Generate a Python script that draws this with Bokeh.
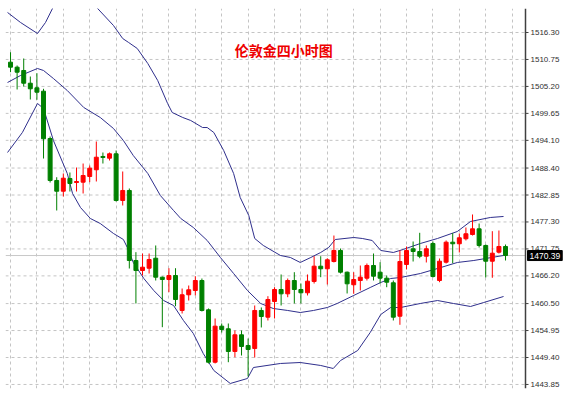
from bokeh.plotting import figure
from bokeh.models import (ColumnDataSource, FixedTicker, Span, Label, Range1d)
from bokeh.core.properties import value
from bokeh.embed import file_html
from bokeh.resources import INLINE

# ---- Data ----
opens = [1510.19, 1509.16, 1508.48, 1505.86, 1504.92, 1504.22, 1494.48, 1485.84, 1483.63, 1486.25,
         1485.42, 1485.49, 1486.66, 1488.04, 1490.78, 1490.43, 1491.33, 1481.72, 1483.78, 1469.37,
         1467.31, 1467.78, 1469.84, 1465.93, 1465.46, 1466.28, 1459.08, 1462.31, 1463.19, 1465.25,
         1459.22, 1448.43, 1455.85, 1455.31, 1450.64, 1454.07, 1451.87, 1451.26, 1459.08, 1457.70,
         1460.93, 1463.40, 1462.51, 1465.25, 1463.40, 1462.72, 1465.05, 1468.20, 1467.66, 1469.16,
         1471.43, 1466.96, 1464.37, 1465.25, 1465.73, 1468.34, 1466.96, 1465.73, 1464.78, 1457.90,
         1468.55, 1471.78, 1471.22, 1470.25, 1472.87, 1465.25, 1469.02, 1473.14, 1472.81, 1473.84,
         1474.72, 1475.89, 1472.46, 1469.22, 1471.08, 1472.25]
highs = [1512.24, 1509.51, 1510.95, 1507.24, 1507.92, 1504.71, 1494.89, 1486.51, 1487.28, 1487.48,
         1488.51, 1489.33, 1488.92, 1493.86, 1491.60, 1491.60, 1492.01, 1487.69, 1484.19, 1471.08,
         1470.81, 1470.81, 1472.46, 1466.07, 1467.78, 1467.78, 1463.60, 1464.22, 1466.14, 1465.66,
         1459.49, 1457.43, 1456.40, 1456.40, 1454.96, 1454.96, 1453.31, 1460.11, 1459.70, 1462.02,
         1463.87, 1466.49, 1465.66, 1466.96, 1464.63, 1466.49, 1470.25, 1470.25, 1469.84, 1474.51,
         1471.84, 1467.10, 1466.96, 1468.34, 1468.75, 1470.81, 1469.02, 1466.28, 1465.25, 1471.43,
         1472.25, 1473.28, 1475.07, 1472.46, 1473.28, 1469.78, 1473.49, 1474.99, 1474.93, 1476.16,
         1478.84, 1476.98, 1472.66, 1475.40, 1475.54, 1472.66]
lows = [1508.13, 1504.57, 1505.18, 1502.51, 1502.45, 1490.36, 1485.42, 1479.66, 1482.54, 1483.57,
        1483.57, 1483.16, 1485.49, 1485.63, 1489.33, 1489.95, 1481.51, 1480.69, 1467.72, 1460.52,
        1466.28, 1466.69, 1465.25, 1455.64, 1462.84, 1459.96, 1458.46, 1461.13, 1462.17, 1458.87,
        1448.17, 1448.17, 1454.54, 1448.43, 1449.46, 1449.81, 1445.49, 1449.40, 1455.58, 1457.02,
        1457.43, 1460.11, 1461.81, 1460.52, 1460.52, 1462.17, 1464.63, 1465.93, 1464.43, 1468.96,
        1466.69, 1462.58, 1462.51, 1463.19, 1465.25, 1465.25, 1464.63, 1463.87, 1457.02, 1456.13,
        1467.52, 1469.16, 1469.84, 1468.96, 1465.87, 1464.90, 1468.75, 1468.81, 1471.02, 1473.49,
        1474.51, 1472.04, 1465.87, 1465.81, 1470.81, 1469.37]
closes = [1509.16, 1508.13, 1505.86, 1504.71, 1504.01, 1494.42, 1485.84, 1483.63, 1486.31, 1485.22,
          1485.63, 1486.86, 1488.37, 1490.63, 1490.57, 1491.33, 1481.72, 1483.78, 1469.37, 1467.31,
          1467.99, 1469.57, 1465.93, 1465.46, 1466.28, 1461.34, 1462.31, 1463.34, 1465.25, 1459.08,
          1448.43, 1455.85, 1455.17, 1450.64, 1454.07, 1451.67, 1451.05, 1459.08, 1457.84, 1461.34,
          1463.40, 1462.51, 1465.25, 1463.40, 1462.72, 1465.11, 1468.20, 1467.66, 1469.51, 1471.43,
          1466.96, 1464.57, 1465.46, 1465.93, 1468.34, 1466.14, 1465.73, 1464.90, 1457.70, 1469.16,
          1471.43, 1471.22, 1470.25, 1471.78, 1466.07, 1469.22, 1473.14, 1472.81, 1474.04, 1474.87,
          1475.89, 1472.46, 1469.22, 1470.87, 1472.25, 1470.39]

# Bollinger bands, x = candle index
upper_x = [-0.45, 1.52, 4.09, 5.3, 6.36, 8.33, 10.6, 12.1, 13.2, 15.6, 17.0, 17.9, 19.2, 20.8, 22.3,
           23.8, 24.5, 26.1, 27.3, 29.1, 29.8, 30.8, 32.3, 33.8, 34.8, 36.1, 37.0, 38.3, 40.9, 42.4,
           43.9, 45.5, 47.0, 48.2, 49.2, 52.0, 53.3, 54.8, 56.1, 58.0, 59.5, 62.1, 64.7, 67.7, 69.7,
           72.7, 74.7]
upper_y = [1520.42, 1518.36, 1516.09, 1518.36, 1521.24, 1523.92, 1524.53, 1522.89, 1521.24, 1517.74,
           1515.06, 1514.24, 1513.01, 1509.92, 1506.42, 1501.69, 1499.83, 1498.80, 1498.19, 1496.74,
           1496.74, 1495.72, 1492.01, 1487.28, 1482.34, 1478.63, 1473.90, 1472.46, 1470.40, 1469.99,
           1468.96, 1469.99, 1471.02, 1472.04, 1473.69, 1474.10, 1473.90, 1473.49, 1471.43, 1471.02,
           1471.64, 1472.87, 1473.90, 1475.34, 1477.40, 1478.22, 1478.43]
middle_x = [-0.45, 1.52, 4.09, 5.0, 6.5, 8.6, 11.1, 13.6, 15.6, 17.1, 18.6, 20.8, 22.7, 24.7, 25.8,
            27.7, 29.8, 31.8, 33.8, 35.9, 37.9, 39.8, 42.0, 43.9, 45.9, 48.0, 49.5, 52.0, 54.5, 56.1,
            57.6, 59.1, 62.1, 64.7, 67.7, 70.2, 72.0, 74.7]
middle_y = [1506.01, 1507.45, 1508.89, 1508.48, 1506.83, 1504.36, 1500.86, 1498.80, 1496.54, 1494.07,
            1490.98, 1487.28, 1482.75, 1479.66, 1478.01, 1476.16, 1473.49, 1469.99, 1466.69, 1463.19,
            1460.52, 1459.49, 1459.08, 1458.66, 1459.08, 1459.69, 1460.52, 1462.17, 1463.81, 1464.84,
            1465.66, 1465.87, 1466.69, 1467.72, 1468.96, 1469.37, 1469.78, 1470.40]
lower_x = [-0.45, 1.8, 4.09, 5.0, 6.5, 8.6, 9.4, 10.6, 12.1, 13.6, 15.6, 17.1, 17.7, 18.6, 20.2,
           21.7, 23.2, 24.7, 26.2, 27.7, 29.2, 30.8, 33.3, 35.9, 36.8, 40.9, 43.9, 47.0, 48.9, 50.0,
           52.6, 54.5, 56.1, 57.6, 59.1, 62.1, 64.7, 67.1, 69.7, 71.7, 74.7]
lower_y = [1491.60, 1495.72, 1501.69, 1500.66, 1494.07, 1487.28, 1483.16, 1480.28, 1478.01, 1476.98,
           1474.93, 1473.69, 1472.04, 1468.96, 1465.66, 1463.19, 1461.13, 1460.11, 1457.02, 1454.34,
           1450.23, 1446.73, 1444.05, 1445.08, 1447.34, 1448.17, 1448.37, 1447.76, 1447.14, 1448.78,
           1450.84, 1454.55, 1458.25, 1459.69, 1459.69, 1460.52, 1461.13, 1460.52, 1459.90, 1460.72,
           1461.96]

price_ticks = [1516.30, 1510.75, 1505.20, 1499.65, 1494.10, 1488.40, 1482.85, 1477.30, 1471.75,
               1466.20, 1460.50, 1454.95, 1449.40, 1443.85]
current_price = 1470.39
title_text = "伦敦金四小时图"

# ---- Layout constants (pixels -> candle index units) ----
PX = 6.6                      # pixels per candle slot
X0 = -0.76                    # index at left edge of frame
AXIS_X = X0 + 520 / PX        # index where the price axis line sits (x = 525 px)
X1 = X0 + 570 / PX            # right edge of canvas

idx = list(range(len(opens)))
up_col, dn_col = "#ff0000", "#008000"
colors = [up_col if c >= o else dn_col for o, c in zip(opens, closes)]
src = ColumnDataSource(dict(
    x=idx, o=opens, h=highs, l=lows, c=closes,
    top=[max(o, c) for o, c in zip(opens, closes)],
    bot=[min(o, c) for o, c in zip(opens, closes)],
    color=colors,
))

p = figure(width=575, height=398, output_backend="svg", toolbar_location=None,
           x_range=Range1d(X0, X1), y_range=Range1d(1443.02, 1521.24),
           min_border_left=5, min_border_right=0, min_border_top=8, min_border_bottom=10)
p.outline_line_color = None
p.background_fill_color = "white"
p.border_fill_color = "white"
p.xaxis.visible = False
p.yaxis.visible = False
p.ygrid.visible = False
p.xgrid.ticker = FixedTicker(ticks=list(range(0, 77, 4)))
p.xgrid.grid_line_color = "#c4c4c4"
p.xgrid.grid_line_dash = "3 3"

# horizontal dashed grid up to the axis line
n = len(price_ticks)
p.segment(x0=[X0] * n, x1=[AXIS_X] * n, y0=price_ticks, y1=price_ticks,
          line_color="#c4c4c4", line_dash="3 3", line_width=1)

# current price line
p.segment(x0=[X0], x1=[AXIS_X], y0=[current_price], y1=[current_price],
          line_color="#c8c8c8", line_width=1)

# bands
band_col = "#2f2f8c"
p.line(upper_x, upper_y, line_color=band_col, line_width=1)
p.line(middle_x, middle_y, line_color=band_col, line_width=1)
p.line(lower_x, lower_y, line_color=band_col, line_width=1)

# candles
p.segment(x0="x", y0="l", x1="x", y1="h", line_color="color", line_width=1, source=src)
p.vbar(x="x", width=0.6, top="top", bottom="bot", fill_color="color", line_color="color",
       line_width=1, source=src)

# price axis on the right
p.add_layout(Span(location=AXIS_X, dimension="height", line_color="#404040", line_width=1.5))
p.segment(x0=[AXIS_X] * n, x1=[AXIS_X + 3 / PX] * n, y0=price_ticks, y1=price_ticks,
          line_color="#404040", line_width=1)
p.text(x=[AXIS_X + 5 / PX] * n, y=price_ticks, text=["%.2f" % t for t in price_ticks],
       text_font=value("Liberation Sans"), text_font_size="8px", text_color="#303030",
       text_align="left", text_baseline="middle")

# title inside chart
p.add_layout(Label(x=41.4, y=1512.6, text=title_text, text_align="center", text_baseline="middle",
                   text_color="#ee0000", text_font="Noto Sans CJK SC", text_font_style="bold",
                   text_font_size="14px"))

# current price box on the axis
p.add_layout(Label(x=AXIS_X + 2 / PX, y=current_price, text="%.2f" % current_price,
                   text_align="left", text_baseline="middle", text_color="white",
                   text_font="Liberation Sans", text_font_size="8.5px",
                   background_fill_color="black", border_line_color="black",
                   padding=2))

open("out.html", "w").write(file_html(p, INLINE))
